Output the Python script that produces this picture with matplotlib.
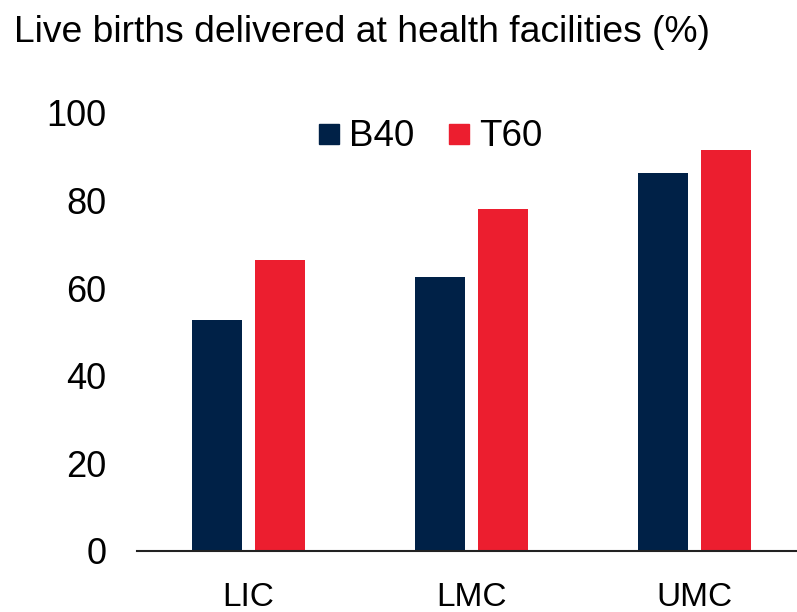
import matplotlib
matplotlib.use("Agg")
import matplotlib.pyplot as plt
import numpy as np
from matplotlib.lines import Line2D

categories = ["LIC", "LMC", "UMC"]
b40 = [52.7, 62.6, 86.3]
t60 = [66.4, 78.1, 91.5]
series_names = ["B40", "T60"]
yticks = [0, 20, 40, 60, 80, 100]

navy = "#002147"
red = "#EC1E2F"

plt.rcParams["font.family"] = ["Liberation Sans", "DejaVu Sans"]

W, H = 797, 612
fig = plt.figure(figsize=(W / 100, H / 100), dpi=100)
left_px = 137
right_px = 137 + 3 * 223
bottom_px = 551
top_px = 113
ax = fig.add_axes([left_px / W, (H - bottom_px) / H, (right_px - left_px) / W, (bottom_px - top_px) / H])

x = np.arange(len(categories))
w = 0.224
off = 0.142
ax.bar(x - off, b40, width=w, color=navy)
ax.bar(x + off, t60, width=w, color=red)

ax.set_xlim(-0.5, 2.5)
ax.set_ylim(0, 100)
ax.set_yticks(yticks)
ax.set_yticklabels([str(v) for v in yticks], fontsize=26)
ax.set_xticks(x)
ax.set_xticklabels(categories, fontsize=24)
ax.tick_params(axis="y", length=0, pad=22)
ax.tick_params(axis="x", length=0, pad=22)
for s in ["top", "right", "left"]:
    ax.spines[s].set_visible(False)
ax.spines["bottom"].set_linewidth(1.5)
ax.spines["bottom"].set_color("#222222")

fig.text(14 / W, 1 - 42 / H, "Live births delivered at health facilities (%)", fontsize=26.8,
         ha="left", va="baseline")

handles = [Line2D([], [], marker="s", linestyle="none", markersize=14, color=c) for c in (navy, red)]
fig.legend(handles, series_names, loc="center", bbox_to_anchor=(430 / W, 1 - 137 / H),
           ncol=2, frameon=False, fontsize=26.5, handlelength=0.6, handletextpad=0.25,
           columnspacing=0.9, borderpad=0)

fig.savefig("out.png", dpi=100)
